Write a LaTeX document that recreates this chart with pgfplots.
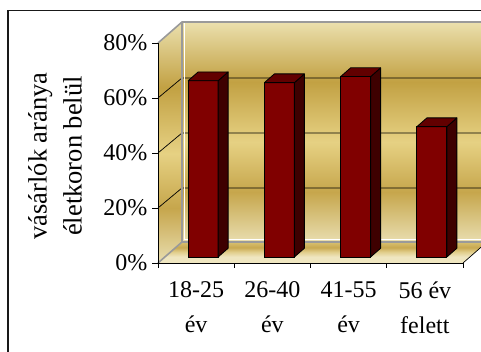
\documentclass[border=0pt]{standalone}
\usepackage{pgfplots}
\pgfplotsset{compat=1.18}
\usepackage{fontspec}
\setmainfont{Liberation Serif}
\definecolor{barfront}{HTML}{800000}
\definecolor{barside}{HTML}{3E0000}
\definecolor{bartop}{HTML}{620000}
\definecolor{gA}{HTML}{EBE0AE}
\definecolor{gB}{HTML}{C2A143}
\definecolor{gC}{HTML}{E6D183}
\definecolor{gD}{HTML}{C6A64C}
\definecolor{gE}{HTML}{E9DEB0}
\definecolor{fA}{HTML}{EFE6C0}
\definecolor{fB}{HTML}{E0CC88}
\definecolor{fC}{HTML}{C8A850}
\definecolor{fD}{HTML}{D8C070}
\definecolor{edgegrey}{HTML}{9A9A9A}
\pgfdeclareverticalshading{goldwall}{100bp}{color(0bp)=(gE); color(25bp)=(gE); color(36.4bp)=(gD); color(47.7bp)=(gC); color(61.4bp)=(gB); color(75bp)=(gA); color(100bp)=(gA)}
\pgfdeclareverticalshading{goldfloor}{100bp}{color(0bp)=(fA); color(25bp)=(fA); color(40bp)=(fA); color(52bp)=(fB); color(62bp)=(fC); color(75bp)=(fD); color(100bp)=(fD)}
\pgfdeclareplotmark{emptymark}{}
\pgfplotstableread{
x y
0.5 64.1
1.5 63.4
2.5 65.6
3.5 47.4
}\bardata
\begin{document}
\begin{tikzpicture}[x=1pt,y=1pt]
\path[use as bounding box] (0,0) rectangle (481,352);
\clip (0,0) rectangle (481,352);
% outer frame
\draw[line width=1.3pt, black!90] (8,-5) -- (8,341.5) -- (490,341.5);
% walls and floor
\shade[shading=goldwall] (158,89) -- (158,309) -- (182,330) -- (182,110) -- cycle;
\shade[shading=goldwall] (182,110) rectangle (490,330);
\shade[shading=goldfloor] (158,89) -- (463,89) -- (487,110) -- (182,110) -- cycle;
% gridlines on walls
\foreach \v in {20,40,60}{
  \pgfmathsetmacro{\yf}{89+\v*2.75}
  \draw[black, line width=0.7pt] (158,\yf) -- (182,\yf+20) -- (490,\yf+20);
}
% wall edges
\draw[white, line width=1pt] (184,112) -- (490,112);
\draw[white, line width=1pt] (184,112) -- (184,329);
\draw[edgegrey, line width=1.6pt] (158,309) -- (182,330) -- (490,330);
\draw[edgegrey, line width=1.6pt] (182,330) -- (182,110) -- (490,110);
\draw[edgegrey, line width=1.6pt] (158,89) -- (182,110);
\draw[black, line width=0.7pt] (463,89) -- (487,110);
% bars
\begin{axis}[at={(165pt,95pt)}, anchor=south west, scale only axis,
  width=305pt, height=220pt, xmin=0, xmax=4, ymin=0, ymax=80,
  hide axis, clip=false]
\addplot[scatter, only marks, mark=emptymark,
  visualization depends on={rawy \as \rawy},
  scatter/@pre marker code/.code={%
    \filldraw[fill=barside, draw=black, line width=0.8pt, line join=round]
      (15pt,0pt) -- (25pt,8.75pt) -- (25pt,{8.75pt-\rawy*2.75pt}) -- (15pt,{-\rawy*2.75pt}) -- cycle;
    \filldraw[fill=bartop, draw=black, line width=0.8pt, line join=round]
      (-15pt,0pt) -- (-5pt,8.75pt) -- (25pt,8.75pt) -- (15pt,0pt) -- cycle;
  },
  scatter/@post marker code/.code={}
] table[x=x, y=y] {\bardata};
\addplot[ybar, bar width=30pt, bar shift=0pt, fill=barfront, draw=black, line width=0.8pt]
  table[x=x, y=y] {\bardata};
\end{axis}
% front axis
\begin{axis}[at={(158pt,89pt)}, anchor=south west, scale only axis,
  width=305pt, height=220pt, xmin=0, xmax=4, ymin=0, ymax=80,
  axis x line*=bottom, axis y line*=left,
  axis line style={black, line width=0.8pt, -},
  ytick={0,20,40,60,80}, yticklabels={0\%,20\%,40\%,60\%,80\%},
  xtick={0.5,1.5,2.5,3.5},
  xticklabels={{18-25\\év},{26-40\\év},{41-55\\év},{56 év\\felett}},
  major x tick style={draw=none},
  minor xtick={0,1,2,3,4},
  tick align=outside, major tick length=6pt, minor tick length=5pt,
  tick style={black, line width=0.8pt},
  ticklabel style={font=\fontsize{24}{35}\selectfont},
  xticklabel style={align=center, yshift=-9pt},
  yticklabel style={xshift=-1pt},
]
\end{axis}
% axis title
\node[rotate=90, align=center, inner sep=0pt, font=\fontsize{26.5}{35}\selectfont] at (55,196) {vásárlók aránya\\életkoron belül};
\end{tikzpicture}
\end{document}
